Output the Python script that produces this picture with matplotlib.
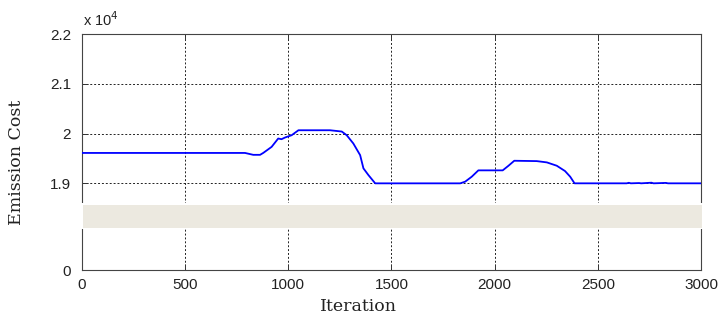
import numpy as np
import matplotlib
matplotlib.use("Agg")
import matplotlib.pyplot as plt
from matplotlib.patches import Rectangle

# ---- data ----
iteration = [0, 790, 830, 863, 879, 919, 951, 967, 984, 1016, 1049, 1202, 1259,
             1283, 1315, 1348, 1364, 1388, 1421, 1833, 1857, 1889, 1921, 2039,
             2067, 2095, 2204, 2253, 2301, 2341, 2366, 2387, 2640, 2650, 2660,
             2700, 2710, 2760, 2770, 2830, 2840, 3000]
emission = [19610, 19610, 19572, 19572, 19612, 19732, 19900, 19886, 19920, 19966,
            20066, 20066, 20040, 19966, 19800, 19566, 19300, 19166, 18990, 18990,
            19033, 19133, 19260, 19260, 19353, 19453, 19446, 19420, 19353, 19246,
            19133, 18995, 18995, 19010, 18995, 19005, 18995, 19012, 18995, 19008,
            18995, 18995]

xticks = [0, 500, 1000, 1500, 2000, 2500, 3000]
yticks = [0, 19000, 20000, 21000, 22000]
ytick_labels = ["0", "1.9", "2", "2.1", "2.2"]

# broken-axis style scale: 0..19000 compressed, 19000..22000 expanded
LOW_PX, HIGH_PX, BREAK = 86.7, 149.3, 19000.0
def fwd(y):
    y = np.asarray(y, dtype=float)
    return np.where(y <= BREAK, y * LOW_PX / BREAK,
                    LOW_PX + (y - BREAK) * HIGH_PX / 3000.0)
def inv(v):
    v = np.asarray(v, dtype=float)
    return np.where(v <= LOW_PX, v * BREAK / LOW_PX,
                    BREAK + (v - LOW_PX) * 3000.0 / HIGH_PX)

W, H = 723, 322
fig = plt.figure(figsize=(W / 100, H / 100), dpi=100)
ax = fig.add_axes([82 / W, (H - 270) / H, (701 - 82) / W, (270 - 34) / H])
ax.set_yscale("function", functions=(fwd, inv))

ax.plot(iteration, emission, color="#0000ff", linewidth=1.3, zorder=3)

ax.set_xlim(0, 3000)
ax.set_ylim(0, 22000)
ax.set_xticks(xticks)
ax.set_xticklabels([str(t) for t in xticks])
ax.set_yticks(yticks)
ax.set_yticklabels(ytick_labels)
ax.yaxis.set_minor_locator(matplotlib.ticker.NullLocator())

for lab in ax.get_xticklabels() + ax.get_yticklabels():
    lab.set_fontfamily("Liberation Sans")
    lab.set_fontsize(11)
    lab.set_color("#222222")

ax.tick_params(direction="in", length=4, width=0.7, top=True, right=True,
               color="#333333", pad=6)
ax.tick_params(axis="y", pad=8)
ax.grid(True, linestyle=(0, (2, 2)), color="#222222", linewidth=0.7)
for s in ax.spines.values():
    s.set_color("#444444")
    s.set_linewidth(0.8)

# break band
fr = lambda py: (270 - py) / (270 - 34)
ax.add_patch(Rectangle((-0.01, fr(228.5)), 1.03, fr(202.5) - fr(228.5),
                       transform=ax.transAxes, facecolor="white",
                       edgecolor="none", clip_on=False, zorder=5))
ax.add_patch(Rectangle((0.002, fr(227.7)), 1.0, fr(205) - fr(227.7),
                       transform=ax.transAxes, facecolor="#ECE9E0",
                       edgecolor="none", clip_on=False, zorder=6))

# exponent label
ax.text(0.002, 1.02, r"x 10$^4$", transform=ax.transAxes,
        fontsize=10.5, family="Liberation Sans", color="#222222",
        ha="left", va="bottom")

ax.set_xlabel("Iteration", family="DejaVu Serif", fontsize=12.5, color="#222222")
ax.set_ylabel("Emission Cost", family="DejaVu Serif", fontsize=12.5, color="#222222")
ax.xaxis.set_label_coords((358 - 82) / 619, (270 - 298) / 236)
ax.yaxis.set_label_coords((25 - 82) / 619, (270 - 162) / 236)

fig.savefig("out.png", dpi=100)
